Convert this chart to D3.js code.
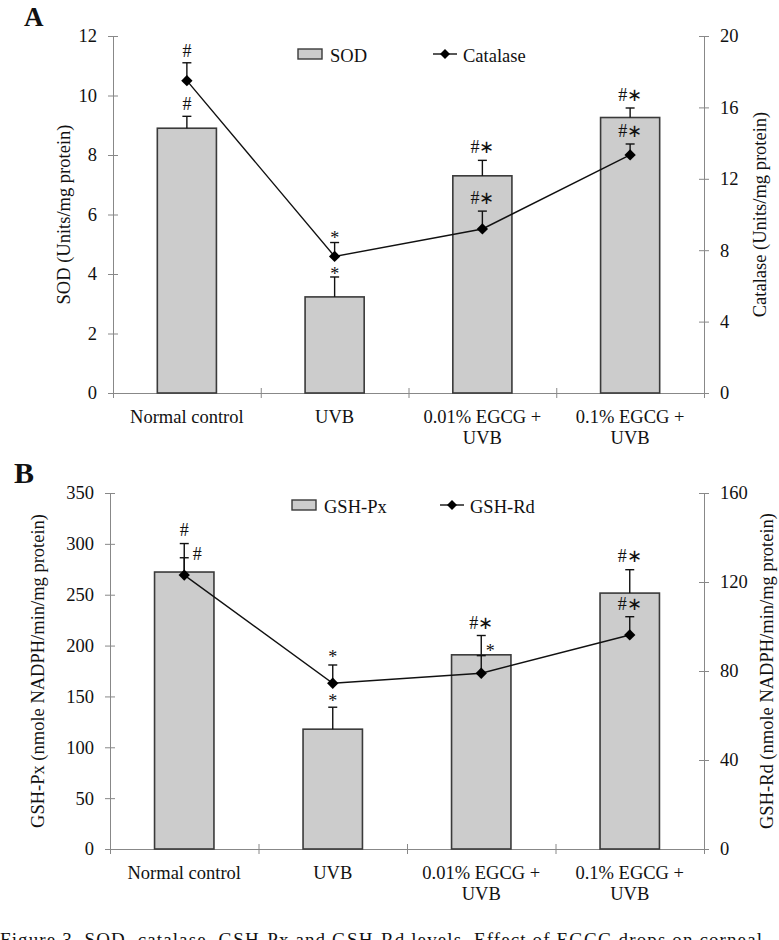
<!DOCTYPE html>
<html>
<head>
<meta charset="utf-8">
<script src="https://cdn.jsdelivr.net/npm/d3@7"></script>
<style>
  html, body { margin: 0; padding: 0; background: #fff; }
  svg { display: block; }
  text { font-family: "Liberation Serif", "Times New Roman", serif; fill: #111; }
</style>
</head>
<body>
<svg id="chart" width="779" height="940"></svg>
<script>
// ---------- DATA ----------
const categories = ["Normal control", "UVB", "0.01% EGCG + UVB", "0.1% EGCG + UVB"];
const categoryLines = [["Normal control"], ["UVB"], ["0.01% EGCG +", "UVB"], ["0.1% EGCG +", "UVB"]];

// Panel A
const sodValues = [8.9, 3.23, 7.3, 9.26];
const sodErrors = [0.4, 0.67, 0.52, 0.32];
const sodMarks = ["#", "*", "#\u2217", "#\u2217"];
const catalaseValues = [17.5, 7.65, 9.19, 13.34];
const catalaseErrors = [1.0, 0.78, 1.0, 0.61];
const catalaseMarks = ["#", "*", "#\u2217", "#\u2217"];
const sodTicks = [0, 2, 4, 6, 8, 10, 12];
const catalaseTicks = [0, 4, 8, 12, 16, 20];

// Panel B
const gshPxValues = [272.3, 117.8, 190.9, 251.6];
const gshPxErrors = [28, 21.6, 19, 23];
const gshPxMarks = ["#", "*", "#\u2217", "#\u2217"];
const gshRdValues = [123.1, 74.5, 79.0, 96.2];
const gshRdErrors = [7.8, 8.2, 7.9, 8.2];
const gshRdMarks = ["#", "*", "*", "#\u2217"];
const gshPxTicks = [0, 50, 100, 150, 200, 250, 300, 350];
const gshRdTicks = [0, 40, 80, 120, 160];

const caption = "Figure 3. SOD, catalase, GSH-Px and GSH-Rd levels. Effect of EGCG drops on corneal";

// ---------- DRAW ----------
const svg = d3.select("#chart");
const AXIS = "#888";

function panel(cfg) {
  const g = svg.append("g");
  const x = d3.scaleBand().domain(categories).range([cfg.x0, cfg.x1]).paddingInner(0.6).paddingOuter(0.3);
  const xi = d3.scaleLinear().domain([0, categories.length]).range([cfg.x0, cfg.x1]);
  const yL = d3.scaleLinear().domain([0, d3.max(cfg.leftTicks)]).range([cfg.yBottom, cfg.yTop]);
  const yR = d3.scaleLinear().domain([0, d3.max(cfg.rightTicks)]).range([cfg.yBottom, cfg.yTop]);
  const cx = c => x(c) + x.bandwidth() / 2;

  // panel letter
  g.append("text").attr("x", cfg.letterX).attr("y", cfg.letterY)
    .style("font-size", cfg.letterSize + "px").style("font-weight", "bold").text(cfg.letter);

  // left axis
  const aL = g.append("g").attr("transform", `translate(${cfg.x0},0)`)
    .call(d3.axisLeft(yL).tickValues(cfg.leftTicks).tickSizeInner(5).tickSizeOuter(0).tickPadding(11));
  aL.selectAll(".tick line").attr("x1", 5);
  // right axis
  const aR = g.append("g").attr("transform", `translate(${cfg.x1},0)`)
    .call(d3.axisRight(yR).tickValues(cfg.rightTicks).tickSizeInner(5).tickSizeOuter(0).tickPadding(11));
  aR.selectAll(".tick line").attr("x1", -5);
  // bottom axis
  const aB = g.append("g").attr("transform", `translate(0,${cfg.yBottom})`)
    .call(d3.axisBottom(xi).tickValues(d3.range(categories.length + 1)).tickFormat("").tickSizeInner(5).tickSizeOuter(0));
  aB.selectAll(".tick line").attr("y1", -5);
  [aL, aR, aB].forEach(a => {
    a.selectAll("path.domain").attr("stroke", AXIS).attr("stroke-width", 1);
    a.selectAll(".tick line").attr("stroke", AXIS).attr("stroke-width", 1);
    a.selectAll(".tick text").style("font-size", "18.5px").attr("fill", "#111")
      .style("font-family", '"Liberation Serif", serif');
  });

  // category labels
  categories.forEach((c, i) => {
    categoryLines[i].forEach((ln, j) => {
      g.append("text").attr("x", cx(c)).attr("y", cfg.yBottom + 30 + j * 21)
        .attr("text-anchor", "middle").style("font-size", "18.5px").text(ln);
    });
  });

  // axis titles
  g.append("text").attr("transform", `translate(${cfg.leftTitleX},${(cfg.yTop + cfg.yBottom) / 2}) rotate(-90)`)
    .attr("text-anchor", "middle").attr("dy", "0.35em").style("font-size", "18.5px").text(cfg.leftTitle);
  g.append("text").attr("transform", `translate(${cfg.rightTitleX},${(cfg.yTop + cfg.yBottom) / 2}) rotate(-90)`)
    .attr("text-anchor", "middle").attr("dy", "0.35em").style("font-size", "18.5px").text(cfg.rightTitle);

  // bars
  g.selectAll("rect.bar").data(categories).join("rect").attr("class", "bar")
    .attr("x", c => x(c)).attr("width", x.bandwidth())
    .attr("y", (c, i) => yL(cfg.barValues[i])).attr("height", (c, i) => yL(0) - yL(cfg.barValues[i]))
    .attr("fill", "#cccccc").attr("stroke", "#3a3a3a").attr("stroke-width", 1.6);

  // error bars helper
  function errBars(vals, errs, y) {
    categories.forEach((c, i) => {
      const xc = cx(c), y0 = y(vals[i]), y1 = y(vals[i] + errs[i]);
      g.append("line").attr("x1", xc).attr("x2", xc).attr("y1", y0).attr("y2", y1)
        .attr("stroke", "#111").attr("stroke-width", 1.4);
      g.append("line").attr("x1", xc - 4.5).attr("x2", xc + 4.5).attr("y1", y1).attr("y2", y1)
        .attr("stroke", "#111").attr("stroke-width", 1.4);
    });
  }
  errBars(cfg.barValues, cfg.barErrors, yL);
  errBars(cfg.lineValues, cfg.lineErrors, yR);

  // line series
  const line = d3.line().x((d, i) => cx(categories[i])).y(d => yR(d));
  g.append("path").datum(cfg.lineValues).attr("d", line)
    .attr("fill", "none").attr("stroke", "#111").attr("stroke-width", 1.4);
  const diamond = d3.symbol(d3.symbolSquare, 64);
  g.selectAll("path.pt").data(cfg.lineValues).join("path").attr("class", "pt")
    .attr("d", diamond)
    .attr("transform", (d, i) => `translate(${cx(categories[i])},${yR(d)}) rotate(45)`)
    .attr("fill", "#000");

  // significance marks
  function marks(vals, errs, labels, y, dxs, dys) {
    categories.forEach((c, i) => {
      g.append("text").attr("x", cx(c) + dxs[i])
        .attr("y", y(vals[i] + errs[i]) + dys[i])
        .attr("text-anchor", "middle").style("font-size", "18px").text(labels[i]);
    });
  }
  marks(cfg.barValues, cfg.barErrors, cfg.barMarks, yL, cfg.barMarkDx, cfg.barMarkDy);
  marks(cfg.lineValues, cfg.lineErrors, cfg.lineMarks, yR, cfg.lineMarkDx, cfg.lineMarkDy);

  // legend
  const L = cfg.legend;
  g.append("rect").attr("x", L.rx).attr("y", L.ry).attr("width", 24).attr("height", 10)
    .attr("fill", "#cccccc").attr("stroke", "#3a3a3a").attr("stroke-width", 1.4);
  g.append("text").attr("x", L.rx + 32).attr("y", L.ry + 13).style("font-size", "18.5px").text(L.barName);
  g.append("line").attr("x1", L.lx).attr("x2", L.lx + 24).attr("y1", L.ry + 5).attr("y2", L.ry + 5)
    .attr("stroke", "#111").attr("stroke-width", 1.4);
  g.append("path").attr("d", d3.symbol(d3.symbolSquare, 50)())
    .attr("transform", `translate(${L.lx + 12},${L.ry + 5}) rotate(45)`).attr("fill", "#000");
  g.append("text").attr("x", L.lx + 30).attr("y", L.ry + 13).style("font-size", "18.5px").text(L.lineName);
}

panel({
  letter: "A", letterX: 24, letterY: 26, letterSize: 27,
  x0: 113, x1: 704, yTop: 36, yBottom: 393,
  leftTicks: sodTicks, rightTicks: catalaseTicks,
  leftTitle: "SOD (Units/mg protein)", rightTitle: "Catalase (Units/mg protein)",
  leftTitleX: 64, rightTitleX: 760,
  barValues: sodValues, barErrors: sodErrors, barMarks: sodMarks,
  lineValues: catalaseValues, lineErrors: catalaseErrors, lineMarks: catalaseMarks,
  barMarkDx: [0, 0, 0, 0], barMarkDy: [-6, 3, -7, -7],
  lineMarkDx: [0, 0, 0, 0], lineMarkDy: [-6, 1, -7, -7],
  legend: { rx: 298, ry: 49, lx: 433, barName: "SOD", lineName: "Catalase" }
});

panel({
  letter: "B", letterX: 14, letterY: 483, letterSize: 30,
  x0: 110, x1: 704, yTop: 493, yBottom: 849,
  leftTicks: gshPxTicks, rightTicks: gshRdTicks,
  leftTitle: "GSH-Px (nmole NADPH/min/mg protein)", rightTitle: "GSH-Rd (nmole NADPH/min/mg protein)",
  leftTitleX: 38, rightTitleX: 767,
  barValues: gshPxValues, barErrors: gshPxErrors, barMarks: gshPxMarks,
  lineValues: gshRdValues, lineErrors: gshRdErrors, lineMarks: gshRdMarks,
  barMarkDx: [0, 0, 0, 0], barMarkDy: [-8, 0, -7, -8],
  lineMarkDx: [13, 0, 9, 0], lineMarkDy: [2, -2, 1, -7],
  legend: { rx: 292, ry: 500, lx: 440, barName: "GSH-Px", lineName: "GSH-Rd" }
});

svg.append("text").attr("x", 0).attr("y", 946).attr("textLength", 762).attr("lengthAdjust", "spacing")
  .style("font-size", "19px").text(caption);
</script>
</body>
</html>
